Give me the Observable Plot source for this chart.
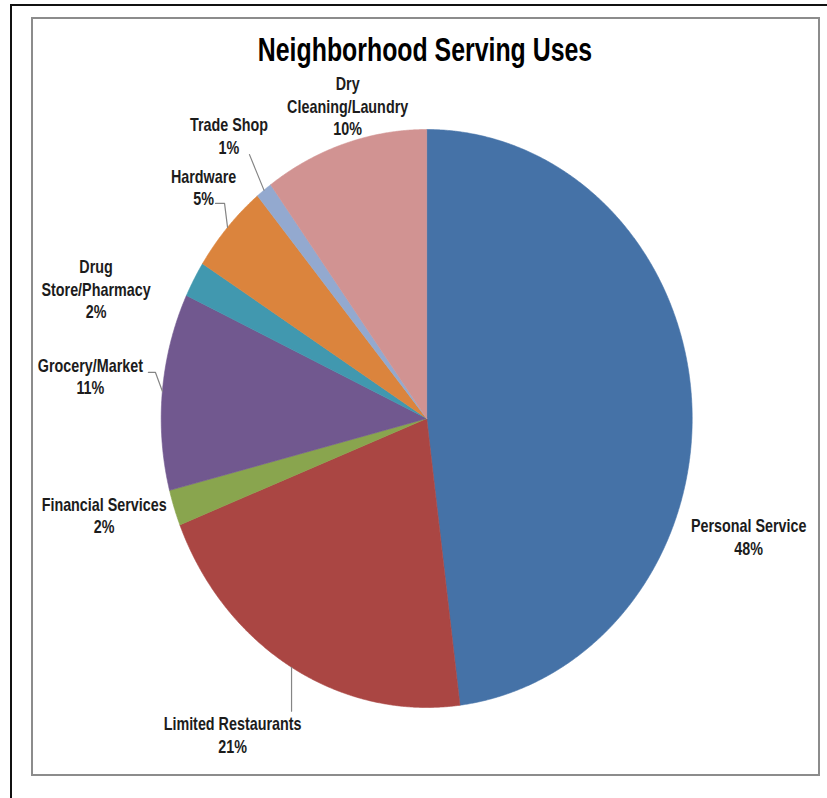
<!DOCTYPE html>
<html>
<head>
<meta charset="utf-8">
<script src="https://cdn.jsdelivr.net/npm/d3@7"></script>
<script src="https://cdn.jsdelivr.net/npm/@observablehq/plot@0.6"></script>
<style>
  html, body { margin: 0; padding: 0; background: #fff; }
  #wrap { position: relative; width: 827px; height: 798px; overflow: hidden; background: #fff; }
  #outer { position: absolute; left: 10px; top: 4px; right: -5px; bottom: -5px; border-top: 2px solid #111; border-left: 2px solid #111; }
  #inner { position: absolute; left: 31px; top: 17px; width: 789px; height: 759px; box-sizing: border-box; border: 2px solid #8c8c8c; }
  #title { position: absolute; left: 25px; width: 800px; top: 34px; text-align: center;
           font-family: "Liberation Sans", Arial, sans-serif; white-space: nowrap;
           font-weight: bold; font-size: 32.5px; line-height: 32.5px; color: #000;
           transform: scaleX(0.765); transform-origin: 400px 0; }
  #chart { position: absolute; left: 0; top: 0; }
</style>
</head>
<body>
<div id="wrap">
  <div id="outer"></div>
  <div id="inner"></div>
  <div id="chart"></div>
  <div id="title">Neighborhood Serving Uses</div>
</div>
<script>
// ---- data ----
const categories = ["Personal Service", "Limited Restaurants", "Financial Services", "Grocery/Market",
                    "Drug Store/Pharmacy", "Hardware", "Trade Shop", "Dry Cleaning/Laundry"];
const shares = [48, 21, 2, 11, 2, 5, 1, 10];
const labelTexts = ["Personal Service", "Limited Restaurants", "Financial Services", "Grocery/Market",
                    "Drug\nStore/Pharmacy", "Hardware", "Trade Shop", "Dry\nCleaning/Laundry"];
const sliceColors = ["#4572A7", "#AA4643", "#89A54E", "#71588F", "#4198AF", "#DB843D", "#93A9CF", "#D19392"];

// ---- label layout (pixel offsets from slice mid-edge point) ----
const labelOffsets = [[57, 136], [-59, 67], [-70, 7], [-72, -15.5], [-98, 9.5], [-24, -40.5], [-35, -55], [3, -38]];
const leaderOffsets = [
  null,
  [[0, 44]],
  null,
  [[-7, -19], [-14, -19]],
  null,
  [[-3, -24], [-12, -24]],
  [[-14.5, -35.5]],
  null
];

// ---- geometry ----
const W = 827, H = 798;
const pieLeft = 160.7, pieRight = 691.7, pieTop = 129, pieBottom = 707;
const RX = (pieRight - pieLeft) / 2, RY = (pieBottom - pieTop) / 2;
const total = d3.sum(shares);

const piePts = [];
const edgePts = [];
let acc = 0;
categories.forEach((name, i) => {
  const a0 = acc / total * 2 * Math.PI;
  acc += shares[i];
  const a1 = acc / total * 2 * Math.PI;
  const n = Math.max(2, Math.ceil((a1 - a0) / (Math.PI / 720)));
  piePts.push({name, x: 0, y: 0});
  for (let k = 0; k <= n; k++) {
    const a = a0 + (a1 - a0) * k / n;
    piePts.push({name, x: Math.sin(a), y: Math.cos(a)});
  }
  piePts.push({name, x: 0, y: 0});
  const am = (a0 + a1) / 2;
  edgePts.push({x: Math.sin(am), y: Math.cos(am)});
});

const labels = categories.map((name, i) => ({
  name,
  text: labelTexts[i] + "\n" + shares[i] + "%",
  x: edgePts[i].x + labelOffsets[i][0] / RX,
  y: edgePts[i].y - labelOffsets[i][1] / RY
}));

const leaders = [];
leaderOffsets.forEach((pts, i) => {
  if (!pts) return;
  leaders.push({name: categories[i], x: edgePts[i].x, y: edgePts[i].y});
  pts.forEach(([dx, dy]) => leaders.push({name: categories[i], x: edgePts[i].x + dx / RX, y: edgePts[i].y - dy / RY}));
});

const font = '"Liberation Sans", Arial, sans-serif';

const chart = Plot.plot({
  width: W,
  height: H,
  marginLeft: pieLeft,
  marginRight: W - pieRight,
  marginTop: pieTop,
  marginBottom: H - pieBottom,
  x: {domain: [-1, 1], axis: null},
  y: {domain: [-1, 1], axis: null},
  color: {domain: categories, range: sliceColors},
  style: {background: "transparent", fontFamily: font, overflow: "visible"},
  marks: [
    Plot.line(piePts, {x: "x", y: "y", z: "name", fill: "name", stroke: "name", strokeWidth: 0.6, curve: "linear"}),
    Plot.line(leaders, {x: "x", y: "y", z: "name", stroke: "#858585", strokeWidth: 1.2}),
    Plot.text(labels, {x: "x", y: "y", text: "text", fill: "#1c1c1c", fontSize: 18.5, fontWeight: "bold",
                       lineHeight: 1.216, textAnchor: "middle", lineAnchor: "middle"})
  ]
});
// condense label text horizontally (narrow face look)
d3.select(chart).selectAll("text").each(function() {
  const t = this.getAttribute("transform");
  if (t) {
    this.setAttribute("transform", t + " scale(0.775,1)");
  } else {
    const x = +this.getAttribute("x") || 0, y = +this.getAttribute("y") || 0;
    this.setAttribute("transform", `translate(${x},${y}) scale(0.775,1) translate(${-x},${-y})`);
  }
});
document.getElementById("chart").appendChild(chart);
</script>
</body>
</html>
